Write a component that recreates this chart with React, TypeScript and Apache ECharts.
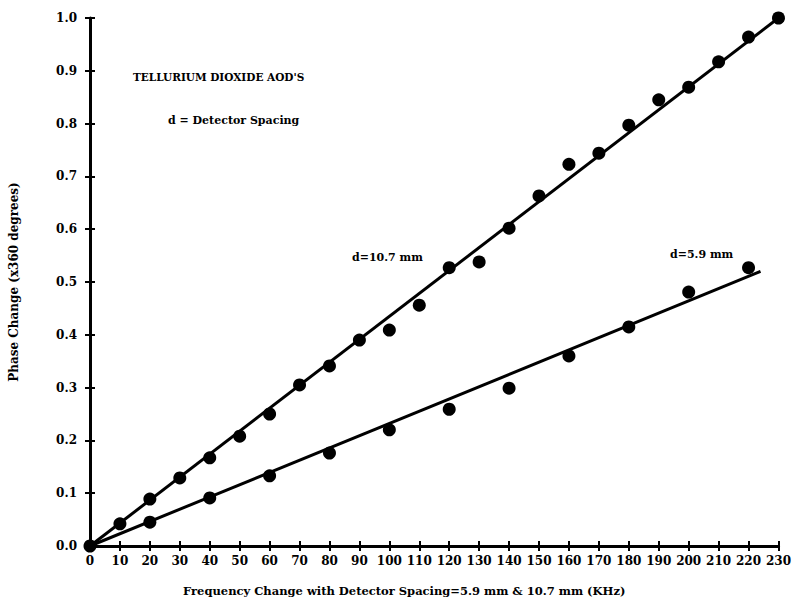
import React, { useEffect, useRef } from "react";
import * as echarts from "echarts";

const xTicks = [0, 10, 20, 30, 40, 50, 60, 70, 80, 90, 100, 110, 120, 130, 140, 150, 160, 170, 180, 190, 200, 210, 220, 230];

const freq107 = [0, 10, 20, 30, 40, 50, 60, 70, 80, 90, 100, 110, 120, 130, 140, 150, 160, 170, 180, 190, 200, 210, 220, 230];
const phase107 = [0, 0.042, 0.089, 0.129, 0.167, 0.208, 0.25, 0.305, 0.341, 0.39, 0.409, 0.456, 0.527, 0.538, 0.602, 0.663, 0.723, 0.744, 0.797, 0.845, 0.869, 0.917, 0.964, 1.0];

const freq59 = [20, 40, 60, 80, 100, 120, 140, 160, 180, 200, 220];
const phase59 = [0.045, 0.091, 0.133, 0.176, 0.22, 0.259, 0.299, 0.36, 0.415, 0.481, 0.527];

// fitted straight lines (start / end)
const fit107X = [0, 230];
const fit107Y = [0, 1.0];
const fit59X = [0, 224];
const fit59Y = [0, 0.52];

const FONT = "DejaVu Serif";

export default function App() {
  const ref = useRef<HTMLDivElement>(null);
  useEffect(() => {
    const chart = echarts.init(ref.current!, null, { renderer: "svg" });
    const xCommon = {
      type: "value",
      min: 0,
      max: 230,
      interval: 10,
      splitLine: { show: false },
    };
    const yCommon = {
      type: "value",
      min: 0,
      max: 1.0,
      interval: 0.1,
      splitLine: { show: false },
    };
    chart.setOption({
      animation: false,
      backgroundColor: "#ffffff",
      grid: { left: 89, right: 13, top: 18, bottom: 60 },
      xAxis: [
        {
          ...xCommon,
          position: "bottom",
          name: "Frequency Change with Detector Spacing=5.9 mm & 10.7 mm (KHz)",
          nameLocation: "middle",
          nameGap: 39,
          nameTextStyle: { fontFamily: FONT, fontWeight: "bold", fontSize: 11.5, color: "#000", padding: [0, 60, 0, 0] },
          axisLine: { show: true, lineStyle: { color: "#000", width: 3 } },
          axisTick: { show: true, inside: false, length: 5, lineStyle: { color: "#000", width: 2 } },
          axisLabel: {
            fontFamily: FONT,
            fontWeight: "bold",
            fontSize: 12,
            color: "#000",
            margin: 9,
            formatter: (v: number) => (xTicks.includes(v) ? String(v) : ""),
          },
        },
        {
          ...xCommon,
          position: "bottom",
          axisLine: { show: false },
          axisTick: { show: true, inside: true, length: 5, lineStyle: { color: "#000", width: 2 } },
          axisLabel: { show: false },
        },
      ],
      yAxis: [
        {
          ...yCommon,
          position: "left",
          name: "Phase Change (x360 degrees)",
          nameLocation: "middle",
          nameGap: 70,
          nameTextStyle: { fontFamily: FONT, fontWeight: "bold", fontSize: 12, color: "#000" },
          axisLine: { show: true, lineStyle: { color: "#000", width: 3 } },
          axisTick: { show: true, inside: false, length: 5, lineStyle: { color: "#000", width: 2 } },
          axisLabel: {
            fontFamily: FONT,
            fontWeight: "bold",
            fontSize: 12,
            color: "#000",
            margin: 13,
            formatter: (v: number) => v.toFixed(1),
          },
        },
        {
          ...yCommon,
          position: "left",
          axisLine: { show: false },
          axisTick: { show: true, inside: true, length: 5, lineStyle: { color: "#000", width: 2 } },
          axisLabel: { show: false },
        },
      ],
      graphic: [
        {
          type: "text",
          left: 133,
          top: 71,
          style: { text: "TELLURIUM DIOXIDE AOD'S", fontFamily: FONT, fontWeight: "bold", fontSize: 10.5, fill: "#000" },
        },
        {
          type: "text",
          left: 168,
          top: 115,
          style: { text: "d = Detector Spacing", fontFamily: FONT, fontWeight: "bold", fontSize: 11, fill: "#000" },
        },
        {
          type: "text",
          left: 352,
          top: 252,
          style: { text: "d=10.7 mm", fontFamily: FONT, fontWeight: "bold", fontSize: 11, fill: "#000" },
        },
        {
          type: "text",
          left: 670,
          top: 249,
          style: { text: "d=5.9 mm", fontFamily: FONT, fontWeight: "bold", fontSize: 11, fill: "#000" },
        },
      ],
      series: [
        {
          type: "line",
          data: fit107X.map((x, i) => [x, fit107Y[i]]),
          showSymbol: false,
          symbol: "none",
          lineStyle: { color: "#000", width: 3 },
          z: 2,
        },
        {
          type: "line",
          data: fit59X.map((x, i) => [x, fit59Y[i]]),
          showSymbol: false,
          symbol: "none",
          lineStyle: { color: "#000", width: 3 },
          z: 2,
        },
        {
          type: "scatter",
          data: freq107.map((x, i) => [x, phase107[i]]),
          symbol: "circle",
          symbolSize: 13,
          itemStyle: { color: "#000", opacity: 1 },
          z: 3,
        },
        {
          type: "scatter",
          data: freq59.map((x, i) => [x, phase59[i]]),
          symbol: "circle",
          symbolSize: 13,
          itemStyle: { color: "#000", opacity: 1 },
          z: 3,
        },
      ],
    });
    return () => chart.dispose();
  }, []);
  return <div ref={ref} style={{ width: 794, height: 606, position: "absolute", left: 0, top: 0 }} />;
}
